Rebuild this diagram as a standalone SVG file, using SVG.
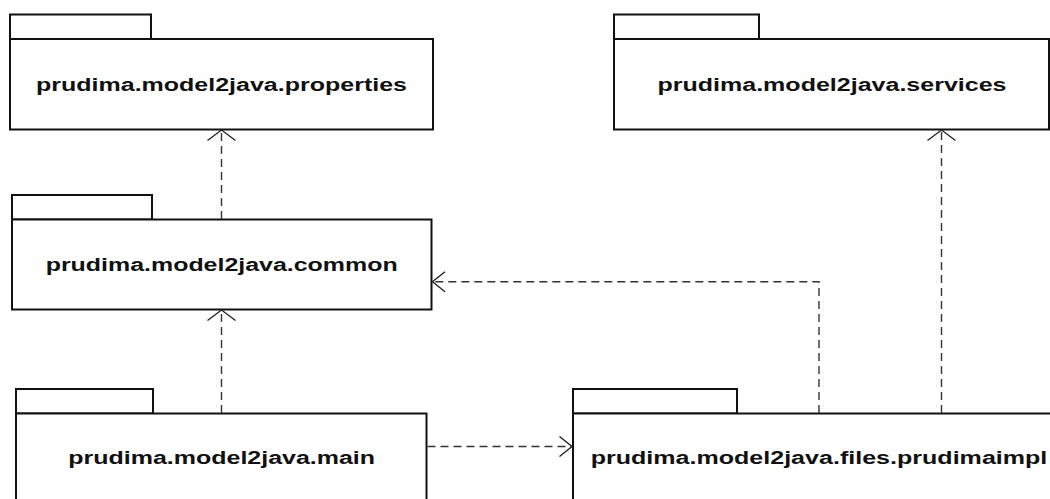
<svg xmlns="http://www.w3.org/2000/svg" width="1050" height="499" viewBox="0 0 1050 499">
  <style>
    .pkg { fill: #ffffff; stroke: #111111; stroke-width: 2; }
    .lbl { font-family: "Liberation Sans", Arial, sans-serif; font-weight: bold; font-size: 18px; fill: #111111; text-anchor: middle; }
    .dep { fill: none; stroke: #333333; stroke-width: 1.4; stroke-dasharray: 8 5; }
    .head { fill: none; stroke: #222222; stroke-width: 1.4; }
  </style>
  <rect width="1050" height="499" fill="#ffffff"/>

  <g id="pkg-properties">
    <rect class="pkg" x="10" y="14.5" width="141" height="24.5"/>
    <rect class="pkg" x="10" y="39" width="423" height="90.5"/>
    <text class="lbl" x="221.5" y="91" textLength="371" lengthAdjust="spacingAndGlyphs">prudima.model2java.properties</text>
  </g>

  <g id="pkg-services">
    <rect class="pkg" x="614" y="14.5" width="145" height="24.5"/>
    <rect class="pkg" x="614" y="39" width="435" height="90.5"/>
    <text class="lbl" x="832" y="91" textLength="349" lengthAdjust="spacingAndGlyphs">prudima.model2java.services</text>
  </g>

  <g id="pkg-common">
    <rect class="pkg" x="12" y="195" width="140" height="24.5"/>
    <rect class="pkg" x="12" y="219.5" width="419.5" height="90"/>
    <text class="lbl" x="221.7" y="271" textLength="352" lengthAdjust="spacingAndGlyphs">prudima.model2java.common</text>
  </g>

  <g id="pkg-main">
    <rect class="pkg" x="16" y="389" width="137" height="24.5"/>
    <rect class="pkg" x="16" y="413.5" width="410.5" height="100"/>
    <text class="lbl" x="221.7" y="464" textLength="306.7" lengthAdjust="spacingAndGlyphs">prudima.model2java.main</text>
  </g>

  <g id="pkg-files-prudimaimpl">
    <rect class="pkg" x="573" y="389" width="164" height="24.5"/>
    <rect class="pkg" x="573" y="413.5" width="500" height="100"/>
    <text class="lbl" x="819" y="464" textLength="456.7" lengthAdjust="spacingAndGlyphs">prudima.model2java.files.prudimaimpl</text>
  </g>

  <g id="connectors">
    <!-- common -> properties -->
    <line class="dep" x1="221.5" y1="219" x2="221.5" y2="131"/>
    <path class="head" d="M207.5,140.5 L221.5,130 L235.5,140.5"/>
    <!-- main -> common -->
    <line class="dep" x1="221.5" y1="413" x2="221.5" y2="311"/>
    <path class="head" d="M207.5,320.5 L221.5,310 L235.5,320.5"/>
    <!-- files.prudimaimpl -> common -->
    <polyline class="dep" points="819,413 819,281.7 433,281.7"/>
    <path class="head" d="M445,271.7 L432.5,281.7 L445,291.7"/>
    <!-- files.prudimaimpl -> services -->
    <line class="dep" x1="941.5" y1="413" x2="941.5" y2="131"/>
    <path class="head" d="M927.5,140.5 L941.5,130 L955.5,140.5"/>
    <!-- main -> files.prudimaimpl -->
    <line class="dep" x1="427.5" y1="446.5" x2="571" y2="446.5"/>
    <path class="head" d="M559.5,436.5 L572,446.5 L559.5,456.5"/>
  </g>
</svg>
